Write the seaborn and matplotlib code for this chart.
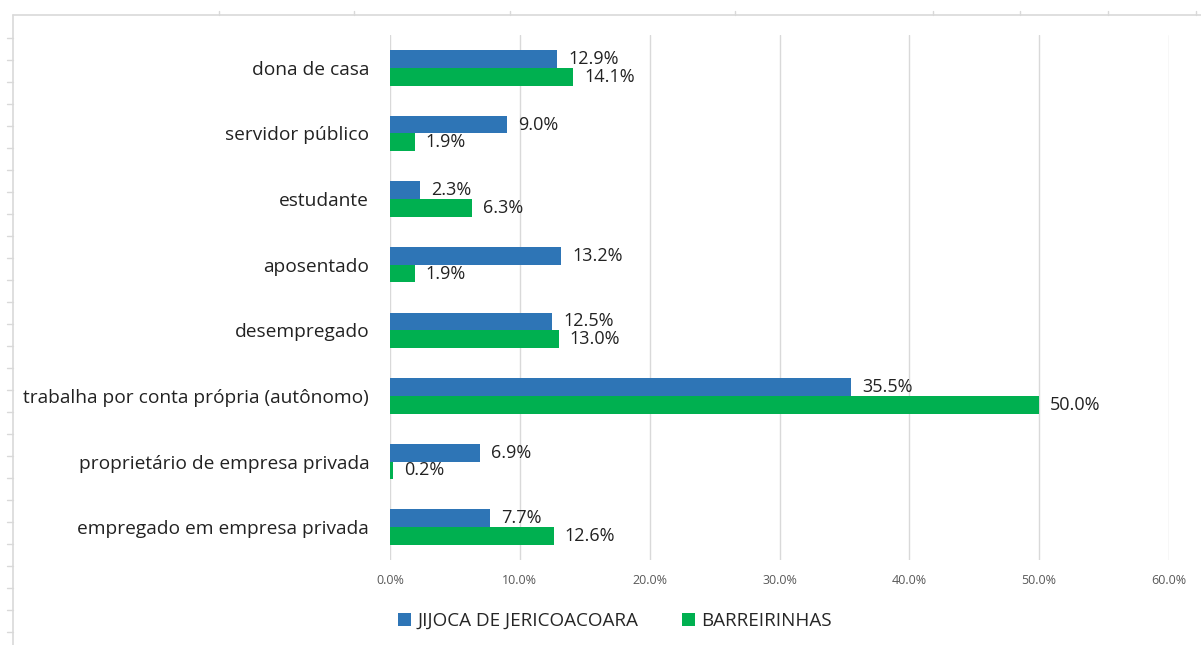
import numpy as np
import pandas as pd
import seaborn as sns
import matplotlib.pyplot as plt
from matplotlib.lines import Line2D
from matplotlib.ticker import PercentFormatter

categorias = ["dona de casa", "servidor público", "estudante", "aposentado",
              "desempregado", "trabalha por conta própria (autônomo)",
              "proprietário de empresa privada", "empregado em empresa privada"]
jijoca = [12.9, 9.0, 2.3, 13.2, 12.5, 35.5, 6.9, 7.7]
barreirinhas = [14.1, 1.9, 6.3, 1.9, 13.0, 50.0, 0.2, 12.6]
series = ["JIJOCA DE JERICOACOARA", "BARREIRINHAS"]
cores = ["#2E75B6", "#00B050"]

df = pd.DataFrame({"cat": categorias * 2,
                   "serie": [series[0]] * len(categorias) + [series[1]] * len(categorias),
                   "valor": jijoca + barreirinhas})

sns.set_theme(style="white")
plt.rcParams['font.family'] = ['Open Sans', 'DejaVu Sans']

fig = plt.figure(figsize=(12.01, 6.45), dpi=100)
ax = fig.add_axes([390 / 1201, 1 - 560 / 645, (1169 - 390) / 1201, (560 - 35) / 645])

sns.barplot(data=df, y="cat", x="valor", hue="serie", palette=cores, orient="h",
            width=0.54, dodge=True, gap=0, saturation=1, linewidth=0,
            edgecolor="none", ax=ax, legend=True)

ax.set_xlim(0, 60)
ax.set_xticks(np.arange(0, 61, 10))
ax.xaxis.set_major_formatter(PercentFormatter(decimals=1))
ax.grid(axis="x", color="#D9D9D9", linewidth=1)
ax.set_axisbelow(True)
for s in ax.spines.values():
    s.set_visible(False)
ax.set_xlabel("")
ax.set_ylabel("")
ax.tick_params(axis="x", labelsize=9, colors="#595959", pad=10, length=0)
ax.tick_params(axis="y", labelsize=13.8, colors="#222222", pad=15, length=0)

# rótulos de dados
for cont in ax.containers:
    ax.bar_label(cont, labels=[f"{v:.1f}%" for v in cont.datavalues],
                 padding=8, fontsize=13, color="#222222")

# legenda embaixo
h, l = ax.get_legend_handles_labels()
ax.get_legend().remove()
fig.legend(h, l, loc="center", bbox_to_anchor=(0.512, 0.037), ncol=2, frameon=False,
           fontsize=13.6, handlelength=0.7, handleheight=0.7, columnspacing=2.3,
           handletextpad=0.35)

# moldura da planilha
fig.add_artist(Line2D([13 / 1201, 13 / 1201], [0, 1 - 15 / 645], color="#D9D9D9", lw=1.2))
fig.add_artist(Line2D([13 / 1201, 1], [1 - 15 / 645, 1 - 15 / 645], color="#D9D9D9", lw=1.2))
for y in range(38, 645, 22):
    fig.add_artist(Line2D([7 / 1201, 13 / 1201], [1 - y / 645, 1 - y / 645], color="#D9D9D9", lw=1))
for x in [219, 354, 510, 735, 933, 1020, 1108, 1196]:
    fig.add_artist(Line2D([x / 1201, x / 1201], [1 - 15 / 645, 1 - 11 / 645], color="#D9D9D9", lw=1))

fig.savefig("out.png", dpi=100)
